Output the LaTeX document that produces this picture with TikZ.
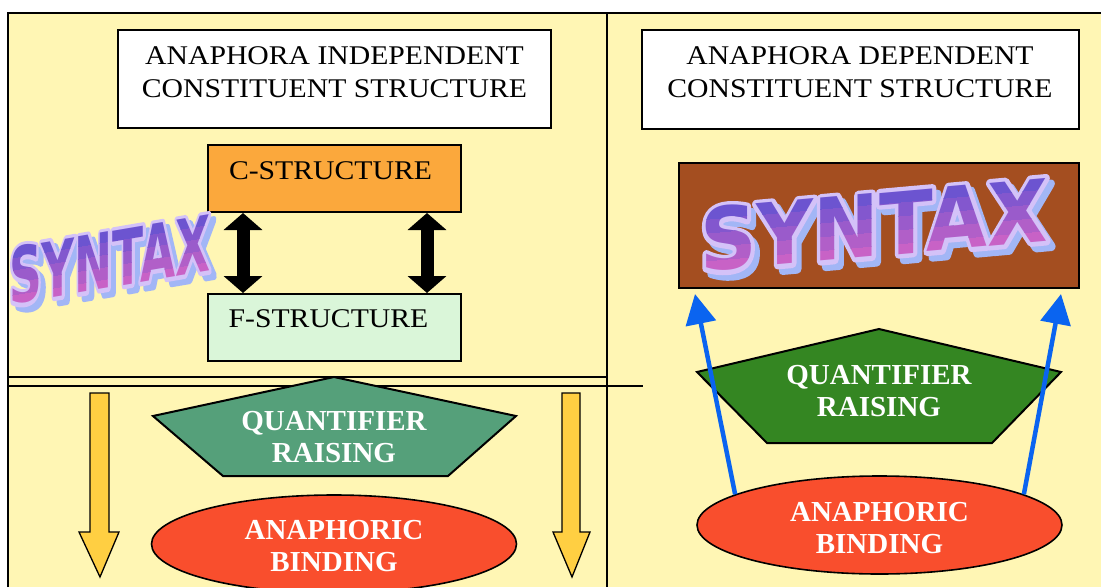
\documentclass[tikz,border=0pt]{standalone}
\usepackage{fontspec}
\setmainfont{Liberation Serif}
\newfontfamily\labfont{Liberation Serif}[FakeStretch=1.1]
\newfontfamily\wafont{DejaVu Sans}
\newfontfamily\waoutfont{DejaVu Sans}[FakeBold=10]
\usetikzlibrary{arrows.meta,calc,shapes.geometric}
\definecolor{bgyellow}{HTML}{FFF6B4}
\definecolor{corange}{HTML}{FBA83C}
\definecolor{fgreen}{HTML}{DAF6D9}
\definecolor{tealgreen}{HTML}{55A07A}
\definecolor{darkgreen}{HTML}{348622}
\definecolor{redorange}{HTML}{F94E2D}
\definecolor{brownbox}{HTML}{A44E20}
\definecolor{yelarrow}{HTML}{FFCF42}
\definecolor{bluearrow}{HTML}{0A64F0}
\definecolor{wshadow}{HTML}{A2B6F6}
\definecolor{woutline}{HTML}{D4C2F8}
\definecolor{wtop}{HTML}{6C54D0}
\definecolor{wbot}{HTML}{C862C6}
\newcommand\wordart[5]{%
\begin{scope}[shift={#1}, x=1pt, y=1pt, yslant=#2, xscale=#3, yscale=#4, transform shape]
  \node[wa, line join=round, font=\waoutfont\bfseries\fontsize{77}{77}\selectfont, text=wshadow] (#5s) at ({5/#3},{-6/#4}) {SYNTAX};
  \node[wa, line join=round, font=\waoutfont\bfseries\fontsize{77}{77}\selectfont, text=woutline] (#5o) at (0,0) {SYNTAX};
  \foreach \i in {0,...,4} {
    \pgfmathsetmacro\mixv{\i*25}
    \begin{scope}
      \clip (-20,{-3+\i*12.4}) rectangle (420,{-3+(\i+1)*12.4+0.4});
      \node[wa, text=wtop!\mixv!wbot] (#5f\i) at (0,0) {SYNTAX};
    \end{scope}
  }
\end{scope}}
\begin{document}
\begin{tikzpicture}[x=1pt,y=-1pt,
  frame/.style={line width=2pt, draw=black},
  boxstyle/.style={draw=black, line width=2pt, inner sep=0pt},
  lab/.style={font=\labfont\fontsize{27}{32.5}\selectfont, align=center, inner sep=0pt, text=black},
  wlab/.style={font=\bfseries\fontsize{29}{32}\selectfont, align=center, inner sep=0pt, text=white},
  wa/.style={anchor=base west, inner sep=0pt, font=\wafont\bfseries\fontsize{77}{77}\selectfont},
  yarrow/.style={fill=yelarrow, draw=black, line width=1.3pt, line join=miter},
  dbl/.style={line width=13pt, {Triangle[length=17pt,width=38pt]}-{Triangle[length=17pt,width=38pt]}},
  barrow/.style={draw=bluearrow, line width=4.5pt, -{Triangle[length=30pt,width=30pt]}},
  penta/.style={draw=black, line width=2pt, line join=miter},
  ell/.style={ellipse, draw=black, line width=1.6pt, fill=redorange, minimum width=365pt, minimum height=98pt, inner sep=0pt}
]
\useasboundingbox (0,0) rectangle (1101,587);
\fill[white] (0,0) rectangle (1101,587);
\fill[bgyellow] (8,13) rectangle (1101,587);
% frame lines
\draw[frame] (8,587) -- (8,13) -- (1101,13);
\draw[frame] (607,13) -- (607,587);
\draw[frame] (8,377) -- (607,377);
\draw[frame] (8,386) -- (643,386);

% left top panel
\node[boxstyle, fill=white, minimum width=433pt, minimum height=98pt] (ib) at (334.5,79) {};
\node[lab] (ibt) at (334.5,72) {ANAPHORA INDEPENDENT\\CONSTITUENT STRUCTURE};
\node[boxstyle, fill=corange, minimum width=253pt, minimum height=67pt] (cs) at (334.5,178.5) {};
\node[lab] (cst) at (330.5,171) {C-STRUCTURE};
\node[boxstyle, fill=fgreen, minimum width=253pt, minimum height=67pt] (fs) at (334.5,327.5) {};
\node[lab] (fst) at (328.5,319) {F-STRUCTURE};
\draw[dbl] ($(cs.south west)+(36,0)$) -- ($(fs.north west)+(36,0)$);
\draw[dbl] ($(cs.south east)+(-35,0)$) -- ($(fs.north east)+(-35,0)$);
\wordart{(9,305)}{0.17}{0.59}{1.0}{wl}

% right top panel
\node[boxstyle, fill=white, minimum width=437pt, minimum height=99pt] (db) at (860.5,79.5) {};
\node[lab] (dbt) at (860,72) {ANAPHORA DEPENDENT\\CONSTITUENT STRUCTURE};
\node[boxstyle, fill=brownbox, minimum width=400pt, minimum height=125pt] (sb) at (879,225.5) {};
\wordart{(700,272)}{0.089}{1.02}{1.12}{wr}

% left bottom panel
\draw[yarrow] (90,393) -- (109,393) -- (109,532) -- (119,532) -- (100,577) -- (79,532) -- (90,532) -- cycle;
\draw[yarrow] (562,393) -- (580,393) -- (580,532) -- (590,532) -- (572,577) -- (553,532) -- (562,532) -- cycle;
\draw[penta, fill=tealgreen] (334,377) -- (516,416) -- (448,476) -- (223,476) -- (153,416) -- cycle;
\node[wlab] (qr1) at (334,437) {QUANTIFIER\\RAISING};
\node[ell] (ab1) at (334,544) {};
\node[wlab] (ab1t) at (334,546) {ANAPHORIC\\BINDING};

% right bottom panel
\draw[penta, fill=darkgreen] (879,329) -- (1061,372) -- (992,443) -- (767,443) -- (697,372) -- cycle;
\node[wlab] (qr2) at (879,391.5) {QUANTIFIER\\RAISING};
\node[ell] (ab2) at (879.5,525) {};
\node[wlab] (ab2t) at (879.5,528) {ANAPHORIC\\BINDING};
\draw[barrow] (ab2.168) -- ($(sb.south west)+(17,5)$);
\draw[barrow] (ab2.12) -- ($(sb.south east)+(-19,5)$);
\end{tikzpicture}
\end{document}
